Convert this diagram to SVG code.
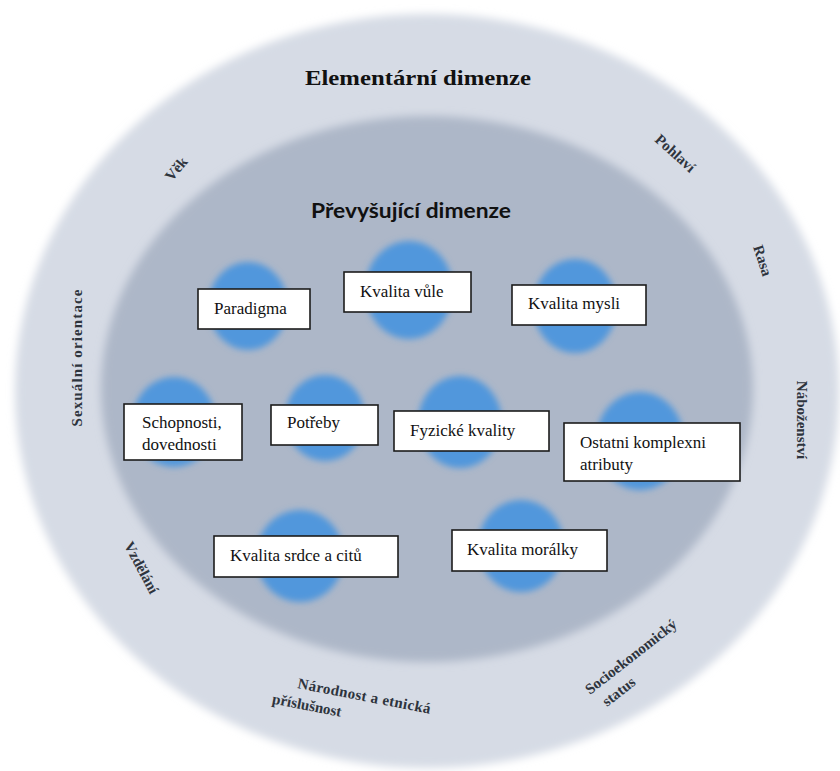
<svg xmlns="http://www.w3.org/2000/svg" width="840" height="771" viewBox="0 0 840 771" font-family="Liberation Serif, serif">
  <defs>
    <filter id="soft" x="-10%" y="-10%" width="120%" height="120%">
      <feGaussianBlur stdDeviation="4"/>
    </filter>
    <filter id="softc" x="-30%" y="-30%" width="160%" height="160%">
      <feGaussianBlur stdDeviation="3"/>
    </filter>
    <style>
      .blob { fill: #5197dc; filter: url(#softc); }
      .box { fill: #ffffff; stroke: #1c1c1c; stroke-width: 1.6; }
      text.boxtxt { font-family: 'Liberation Serif', 'Times New Roman', serif !important; font-size: 17px; fill: #111111; }
      text.ringtxt { font-family: 'Liberation Serif', 'Times New Roman', serif !important; font-size: 15px; font-weight: bold; fill: #2e343d; }
    </style>
  </defs>
  <rect width="840" height="771" fill="#ffffff"/>
  <g id="elementarni">
    <ellipse cx="427" cy="391" rx="412" ry="377" fill="#d6dbe5" filter="url(#soft)"/>
    <text x="418" y="85" text-anchor="middle" font-family="Liberation Serif, serif" font-size="21" font-weight="bold" fill="#111" textLength="226" lengthAdjust="spacingAndGlyphs">Elementární dimenze</text>
  </g>
  <g id="prevysujici">
    <ellipse cx="427" cy="389" rx="326" ry="273" fill="#adb7c8" filter="url(#soft)"/>
    <text x="411" y="218" text-anchor="middle" font-family="Lato, Open Sans, sans-serif" font-size="20" font-weight="bold" fill="#111" textLength="200" lengthAdjust="spacingAndGlyphs">Převyšující dimenze</text>
  </g>
  <g id="outer-labels">
    <text class="ringtxt" font-family="Liberation Serif, serif" transform="translate(180,172) rotate(-50)" text-anchor="middle">Věk</text>
    <text class="ringtxt" font-family="Liberation Serif, serif" transform="translate(672,157) rotate(42)" text-anchor="middle">Pohlaví</text>
    <text class="ringtxt" font-family="Liberation Serif, serif" transform="translate(758,262) rotate(72)" text-anchor="middle">Rasa</text>
    <text class="ringtxt" font-family="Liberation Serif, serif" transform="translate(797,420) rotate(90)" text-anchor="middle">Náboženství</text>
    <text class="ringtxt" font-family="Liberation Serif, serif" transform="translate(82,358) rotate(-90)" text-anchor="middle" textLength="137" lengthAdjust="spacing">Sexuální orientace</text>
    <text class="ringtxt" font-family="Liberation Serif, serif" transform="translate(137,570) rotate(62)" text-anchor="middle">Vzdělání</text>
    <g transform="translate(297,688) rotate(11)">
      <text class="ringtxt" font-family="Liberation Serif, serif" x="0" y="0" textLength="135" lengthAdjust="spacing">Národnost a etnická</text>
      <text class="ringtxt" font-family="Liberation Serif, serif" x="-22" y="20">příslušnost</text>
    </g>
    <g transform="translate(590,695) rotate(-38)">
      <text class="ringtxt" font-family="Liberation Serif, serif" x="0" y="0">Socioekonomický</text>
      <text class="ringtxt" font-family="Liberation Serif, serif" x="6" y="20">status</text>
    </g>
  </g>
  <g id="connectors"/>
  <g id="nodes">
  <g id="paradigma">
    <ellipse class="blob" cx="248" cy="306" rx="40" ry="44"/>
    <rect class="box" x="198" y="289" width="112" height="40"/>
    <text class="boxtxt" font-family="Liberation Serif, serif" x="214" y="314">Paradigma</text>
  </g>
  <g id="kvalita-vule">
    <ellipse class="blob" cx="409" cy="290" rx="44" ry="49"/>
    <rect class="box" x="344" y="272" width="127" height="40"/>
    <text class="boxtxt" font-family="Liberation Serif, serif" x="360" y="297">Kvalita vůle</text>
  </g>
  <g id="kvalita-mysli">
    <ellipse class="blob" cx="575" cy="306" rx="42" ry="47"/>
    <rect class="box" x="512" y="285" width="134" height="40"/>
    <text class="boxtxt" font-family="Liberation Serif, serif" x="528" y="309">Kvalita mysli</text>
  </g>
  <g id="schopnosti">
    <ellipse class="blob" cx="174" cy="422" rx="42" ry="45"/>
    <rect class="box" x="124" y="404" width="118" height="56"/>
    <text class="boxtxt" font-family="Liberation Serif, serif" x="142" y="428">Schopnosti,</text>
    <text class="boxtxt" font-family="Liberation Serif, serif" x="142" y="450">dovednosti</text>
  </g>
  <g id="potreby">
    <ellipse class="blob" cx="325" cy="418" rx="40" ry="43"/>
    <rect class="box" x="271" y="405" width="107" height="40"/>
    <text class="boxtxt" font-family="Liberation Serif, serif" x="287" y="428">Potřeby</text>
  </g>
  <g id="fyzicke">
    <ellipse class="blob" cx="460" cy="422" rx="42" ry="46"/>
    <rect class="box" x="394" y="411" width="155" height="40"/>
    <text class="boxtxt" font-family="Liberation Serif, serif" x="410" y="436">Fyzické kvality</text>
  </g>
  <g id="ostatni">
    <ellipse class="blob" cx="640" cy="441" rx="44" ry="49"/>
    <rect class="box" x="564" y="423" width="176" height="58"/>
    <text class="boxtxt" font-family="Liberation Serif, serif" x="580" y="448">Ostatni komplexni</text>
    <text class="boxtxt" font-family="Liberation Serif, serif" x="580" y="470">atributy</text>
  </g>
  <g id="kvalita-srdce">
    <ellipse class="blob" cx="300" cy="556" rx="44" ry="46"/>
    <rect class="box" x="214" y="536" width="184" height="41"/>
    <text class="boxtxt" font-family="Liberation Serif, serif" x="230" y="561">Kvalita srdce a citů</text>
  </g>
  <g id="kvalita-moralky">
    <ellipse class="blob" cx="521" cy="546" rx="43" ry="46"/>
    <rect class="box" x="452" y="530" width="155" height="41"/>
    <text class="boxtxt" font-family="Liberation Serif, serif" x="467" y="555">Kvalita morálky</text>
  </g>
  </g>
</svg>
